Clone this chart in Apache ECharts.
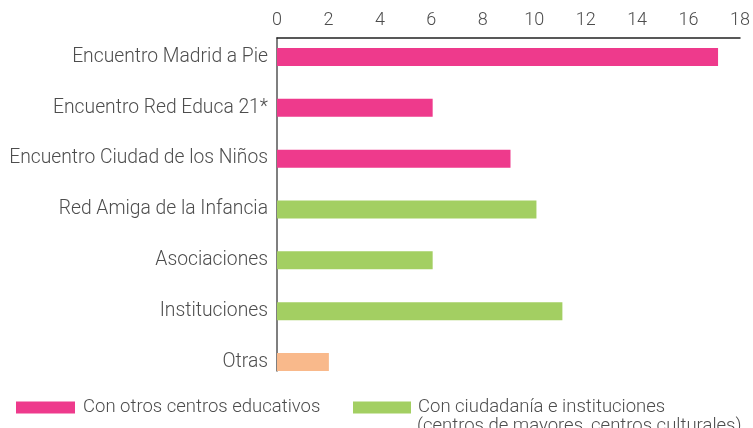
<!DOCTYPE html>
<html>
<head>
<meta charset="utf-8">
<script src="https://cdn.jsdelivr.net/npm/echarts@6/dist/echarts.min.js"></script>
<style>
  html, body { margin: 0; padding: 0; background: #fff; }
  #chart { width: 753px; height: 428px; }
</style>
</head>
<body>
<div id="chart"></div>
<script>
// categorias (de arriba a abajo)
const categorias = [
    'Encuentro Madrid a Pie',
    'Encuentro Red Educa 21*',
    'Encuentro Ciudad de los Niños',
    'Red Amiga de la Infancia',
    'Asociaciones',
    'Instituciones',
    'Otras'
];
const educativos = [17, 6, 9, null, null, null, null];
const ciudadania = [null, null, null, 10, 6, 11, null];
const otras = [null, null, null, null, null, null, 2];
const ticks = [0, 2, 4, 6, 8, 10, 12, 14, 16, 18];

const nombreEdu = 'Con otros centros educativos';
const nombreCiu = 'Con ciudadanía e instituciones';
const nombreCiu2 = '(centros de mayores, centros culturales)';

const fuente = 'Roboto';
const gris = '#4d4d4d';

const chart = echarts.init(document.getElementById('chart'));

const option = {
    animation: false,
    textStyle: { fontFamily: fuente },
    grid: [
        // barras
        { left: 277, right: 9, top: 31.6, bottom: 40.6 },
        // ejes visibles
        { left: 277, right: 9, top: 38, bottom: 57 }
    ],
    xAxis: [
        {
            gridIndex: 0, type: 'value', min: ticks[0], max: ticks[ticks.length - 1], interval: 2,
            show: false
        },
        {
            gridIndex: 1, type: 'value', position: 'top',
            min: ticks[0], max: ticks[ticks.length - 1], interval: 2,
            axisLine: { show: true, onZero: false, lineStyle: { color: '#222', width: 1.5 } },
            axisTick: { show: false },
            splitLine: { show: false },
            axisLabel: { color: gris, fontSize: 18, margin: 9, fontFamily: fuente, fontWeight: 300 }
        }
    ],
    yAxis: [
        {
            gridIndex: 0, type: 'category', inverse: true, data: categorias,
            axisLine: { show: false },
            axisTick: { show: false },
            axisLabel: { color: gris, fontSize: 19.3, margin: 9, fontFamily: fuente, fontWeight: 300 }
        },
        {
            gridIndex: 1, type: 'category', data: [''],
            axisLine: { show: true, lineStyle: { color: '#555', width: 1.5 } },
            axisTick: { show: false },
            axisLabel: { show: false }
        }
    ],
    legend: [
        {
            left: 16, top: 398, itemWidth: 59, itemHeight: 12, itemGap: 0, padding: 0,
            selectedMode: false, icon: 'rect', data: [nombreEdu],
            textStyle: { color: gris, fontSize: 18.5, fontFamily: fuente, fontWeight: 300, padding: [0, 0, 0, 3] }
        },
        {
            left: 353, top: 398, itemWidth: 58, itemHeight: 12, itemGap: 0, padding: 0,
            selectedMode: false, icon: 'rect', data: [nombreCiu],
            textStyle: { color: gris, fontSize: 18.5, fontFamily: fuente, fontWeight: 300, padding: [0, 0, 0, 2] }
        }
    ],
    title: {
        text: nombreCiu2, left: 417, top: 417, padding: 0,
        textStyle: { color: gris, fontSize: 18.5, fontWeight: 300, fontFamily: fuente }
    },
    series: [
        {
            name: nombreEdu, type: 'bar', stack: 'a', barWidth: 18,
            xAxisIndex: 0, yAxisIndex: 0,
            itemStyle: { color: '#ee3a8c' }, data: educativos
        },
        {
            name: nombreCiu, type: 'bar', stack: 'a', barWidth: 18,
            xAxisIndex: 0, yAxisIndex: 0,
            itemStyle: { color: '#a3cf62' }, data: ciudadania
        },
        {
            name: 'Otras', type: 'bar', stack: 'a', barWidth: 18,
            xAxisIndex: 0, yAxisIndex: 0,
            itemStyle: { color: '#f9b98b' }, data: otras
        }
    ]
};

chart.setOption(option);
</script>
</body>
</html>
